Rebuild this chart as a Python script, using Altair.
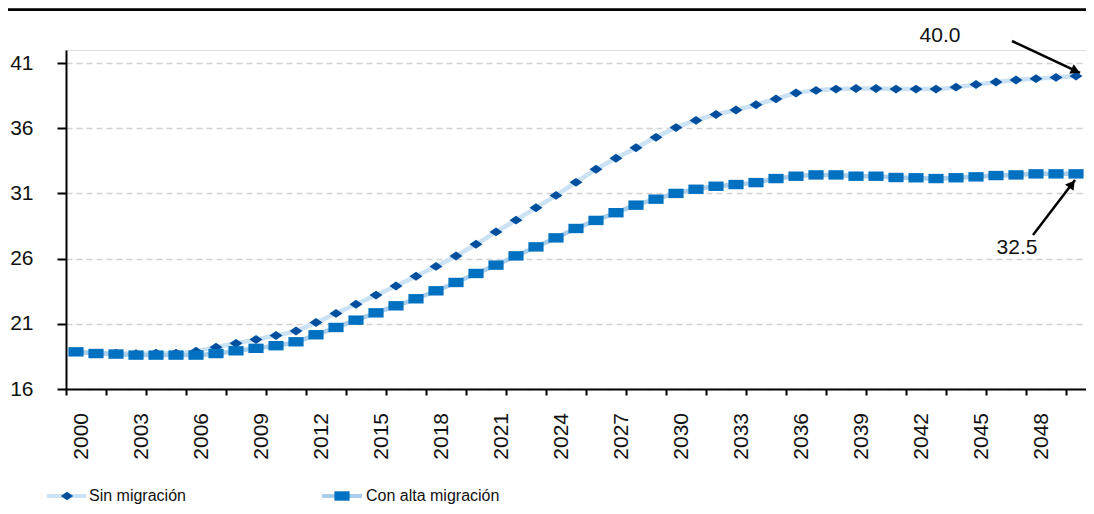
import altair as alt
import pandas as pd

# ---------------- data ----------------
years = list(range(2000, 2051))

sin_migracion = [
    18.85, 18.75, 18.75, 18.70, 18.75, 18.75, 18.90, 19.20, 19.50, 19.80,
    20.10, 20.45, 21.10, 21.80, 22.50, 23.20, 23.90, 24.65, 25.40, 26.20,
    27.10, 28.05, 28.95, 29.90, 30.85, 31.85, 32.85, 33.70, 34.50, 35.30,
    36.05, 36.60, 37.05, 37.40, 37.80, 38.25, 38.70, 38.90, 39.00, 39.05,
    39.05, 39.00, 39.00, 39.00, 39.15, 39.35, 39.55, 39.70, 39.80, 39.90,
    40.00,
]

con_alta_migracion = [
    18.85, 18.72, 18.68, 18.60, 18.60, 18.60, 18.60, 18.72, 18.93, 19.12,
    19.32, 19.62, 20.16, 20.72, 21.28, 21.84, 22.38, 22.92, 23.53, 24.17,
    24.86, 25.50, 26.21, 26.90, 27.59, 28.31, 28.93, 29.52, 30.10, 30.56,
    31.00, 31.32, 31.55, 31.68, 31.83, 32.14, 32.32, 32.42, 32.42, 32.32,
    32.32, 32.22, 32.20, 32.14, 32.20, 32.27, 32.37, 32.42, 32.50, 32.50,
    32.50,
]

series_names = ["Sin migración", "Con alta migración"]
y_ticks = [16, 21, 26, 31, 36, 41]
x_tick_labels = [str(y) for y in range(2000, 2049, 3)]
annotation_labels = ["40.0", "32.5"]

# annotation placement (data units)
ann_text_x = [2043.2, 2047.05]
ann_text_y = [43.07, 26.81]
arrow_x1 = [2046.8, 2047.85]
arrow_y1 = [42.69, 27.81]
arrow_x2 = [2050.2, 2049.95]
arrow_y2 = [40.24, 32.03]
head_x = [2049.98, 2049.8]
head_y = [40.40, 31.72]

# ---------------- styling ----------------
FONT = "Liberation Sans"
SIN_LINE = "#cae2f4"
CON_LINE = "#a8cdea"
SIN_MARK = "#004f9e"
CON_MARK = "#0070c0"
DIAMOND = "M-1,0L0,-0.68L1,0L0,0.68Z"
RECT = "M-1,-0.62L1,-0.62L1,0.62L-1,0.62Z"

df_sin = pd.DataFrame({"year": years, "value": sin_migracion})
df_con = pd.DataFrame({"year": years, "value": con_alta_migracion})
df_xlab = pd.DataFrame({"label": x_tick_labels,
                        "year": [int(s) for s in x_tick_labels]})

x_scale = alt.Scale(domain=[1999.5, 2050.5], nice=False, zero=False)
y_scale = alt.Scale(domain=[16, 42], nice=False, zero=False)

tick_vals = [y - 0.5 for y in years] + [2050.5]

x_axis = alt.Axis(
    values=tick_vals, title=None, labels=False,
    tickSize=6, tickColor="black", tickWidth=2,
    domainColor="black", domainWidth=2, grid=False,
)
y_axis = alt.Axis(
    values=y_ticks, title=None,
    tickSize=9, tickColor="black", tickWidth=2,
    domainColor="black", domainWidth=2,
    labelFont=FONT, labelFontSize=21, labelColor="#111", labelPadding=24,
    grid=True, gridDash=[6, 4], gridColor="#d2d2d2", gridWidth=1.5,
)

X = alt.X("year:Q", scale=x_scale, axis=x_axis)
Y = alt.Y("value:Q", scale=y_scale, axis=y_axis)
Xn = alt.X("year:Q", scale=x_scale)
Yn = alt.Y("value:Q", scale=y_scale)

sin_line = alt.Chart(df_sin).mark_line(
    color=SIN_LINE, strokeWidth=4.5, interpolate="monotone"
).encode(x=X, y=Y)
sin_pts = alt.Chart(df_sin).mark_point(
    shape=DIAMOND, filled=True, color=SIN_MARK, opacity=1, size=170
).encode(x=Xn, y=Yn)
con_line = alt.Chart(df_con).mark_line(
    color=CON_LINE, strokeWidth=4.5, interpolate="monotone"
).encode(x=Xn, y=Yn)
con_pts = alt.Chart(df_con).mark_point(
    shape=RECT, filled=True, color=CON_MARK, opacity=1, size=230
).encode(x=Xn, y=Yn)

# x tick labels (every 3 years, rotated); dy shifts right in the rotated frame
x_labels = alt.Chart(df_xlab).mark_text(
    font=FONT, fontSize=21, color="#111", angle=270,
    align="right", baseline="middle", dy=6,
).encode(x=Xn, y=alt.value(363), text="label:N")

ann = pd.DataFrame({
    "label": annotation_labels,
    "tx": ann_text_x, "ty": ann_text_y,
    "x1": arrow_x1, "y1": arrow_y1, "x2": arrow_x2, "y2": arrow_y2,
    "hx": head_x, "hy": head_y,
})

ann_text = alt.Chart(ann).mark_text(
    font=FONT, fontSize=21, color="#111", align="center", baseline="middle"
).encode(
    x=alt.X("tx:Q", scale=x_scale), y=alt.Y("ty:Q", scale=y_scale), text="label:N"
)
ann_rule = alt.Chart(ann).mark_rule(color="black", strokeWidth=2.5).encode(
    x=alt.X("x1:Q", scale=x_scale), y=alt.Y("y1:Q", scale=y_scale),
    x2="x2:Q", y2="y2:Q",
)
head1 = alt.Chart(ann.iloc[[0]]).mark_point(
    shape="triangle-up", filled=True, color="black", opacity=1, size=110, angle=115
).encode(x=alt.X("hx:Q", scale=x_scale), y=alt.Y("hy:Q", scale=y_scale))
head2 = alt.Chart(ann.iloc[[1]]).mark_point(
    shape="triangle-up", filled=True, color="black", opacity=1, size=110, angle=37
).encode(x=alt.X("hx:Q", scale=x_scale), y=alt.Y("hy:Q", scale=y_scale))

# top black rule (header separator)
one = alt.Data(values=[{"k": 0}])
top_rule = alt.Chart(one).mark_rule(color="black", strokeWidth=2.8).encode(
    x=alt.value(-58), x2=alt.value(1020), y=alt.value(-40.3)
)

# manual legend
LEG_Y = 446
LEG_FS = 16
leg_sin_line = alt.Chart(one).mark_rule(color=SIN_LINE, strokeWidth=4).encode(
    x=alt.value(-19), x2=alt.value(20), y=alt.value(LEG_Y)
)
leg_sin_pt = alt.Chart(one).mark_point(
    shape=DIAMOND, filled=True, color=SIN_MARK, opacity=1, size=150
).encode(x=alt.value(1), y=alt.value(LEG_Y))
leg_sin_txt = alt.Chart(one).mark_text(
    font=FONT, fontSize=LEG_FS, color="#111", align="left", baseline="middle"
).encode(x=alt.value(23), y=alt.value(LEG_Y), text=alt.value(series_names[0]))

leg_con_line = alt.Chart(one).mark_rule(color=CON_LINE, strokeWidth=4).encode(
    x=alt.value(256), x2=alt.value(296), y=alt.value(LEG_Y)
)
leg_con_pt = alt.Chart(one).mark_point(
    shape=RECT, filled=True, color=CON_MARK, opacity=1, size=230
).encode(x=alt.value(276), y=alt.value(LEG_Y))
leg_con_txt = alt.Chart(one).mark_text(
    font=FONT, fontSize=LEG_FS, color="#111", align="left", baseline="middle"
).encode(x=alt.value(300), y=alt.value(LEG_Y), text=alt.value(series_names[1]))

chart = alt.layer(
    sin_line, sin_pts, con_line, con_pts,
    x_labels,
    ann_rule, head1, head2, ann_text,
    top_rule,
    leg_sin_line, leg_sin_pt, leg_sin_txt,
    leg_con_line, leg_con_pt, leg_con_txt,
).properties(
    width=1020, height=339,
    autosize=alt.AutoSizeParams(type="none"),
    padding={"left": 58, "top": 42, "right": 0, "bottom": 117},
).configure_view(stroke=None).configure(background="white")

chart.save("out.html", embed_options={"renderer": "svg", "actions": False})
